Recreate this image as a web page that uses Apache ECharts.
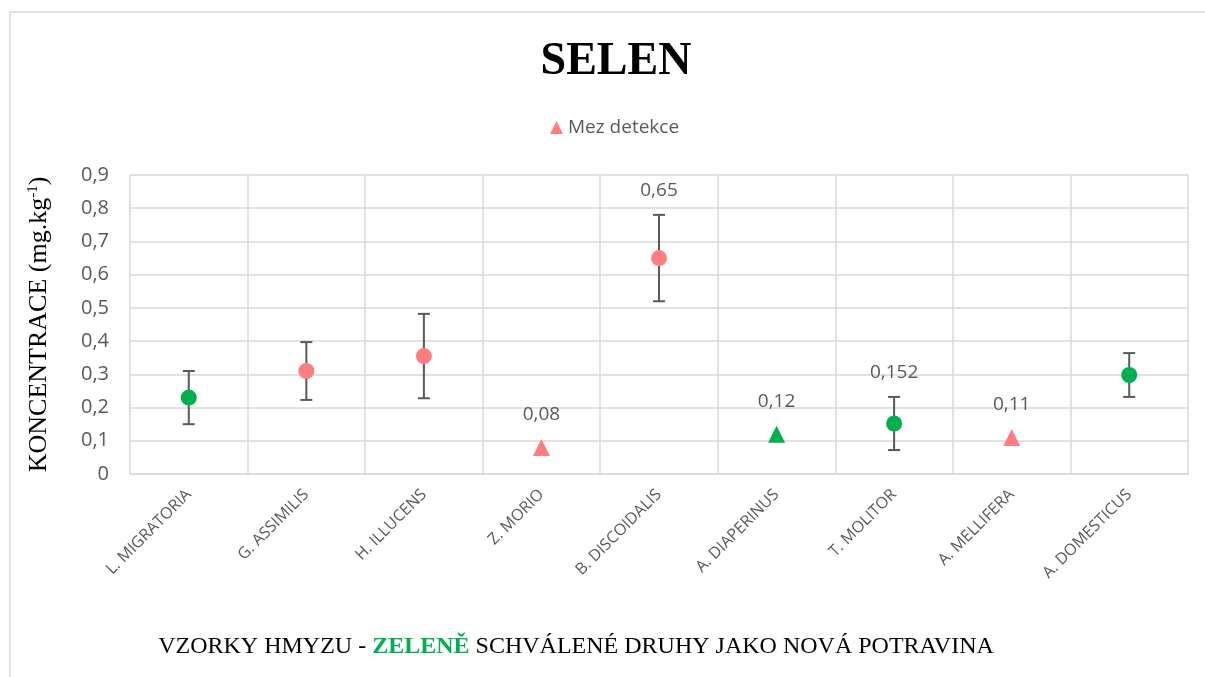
<!DOCTYPE html>
<html>
<head>
<meta charset="utf-8">
<script src="https://cdn.jsdelivr.net/npm/echarts@6/dist/echarts.min.js"></script>
<style>
  html, body { margin: 0; padding: 0; background: #fff; }
  #chart { width: 1205px; height: 677px; }
</style>
</head>
<body>
<div id="chart"></div>
<script>
// data
const categories = ['L. MIGRATORIA', 'G. ASSIMILIS', 'H. ILLUCENS', 'Z. MORIO', 'B. DISCOIDALIS',
  'A. DIAPERINUS', 'T. MOLITOR', 'A. MELLIFERA', 'A. DOMESTICUS']
const values = [0.23, 0.31, 0.355, 0.08, 0.65, 0.12, 0.152, 0.11, 0.298]
const errors = [0.08, 0.087, 0.127, null, 0.13, null, 0.08, null, 0.066]
const approved = [true, false, false, false, false, true, true, false, true]
const belowLimit = [false, false, false, true, false, true, false, true, false]
const valueLabels = ['', '', '', '0,08', '0,65', '0,12', '0,152', '0,11', '']
const yTicks = { min: 0, max: 0.9, step: 0.1 }

const GREEN = '#00b050'
const PINK = '#ff7c80'
const GREY = '#595959'
const GRID = '#d9d9d9'

const chart = echarts.init(document.getElementById('chart'))

const pointData = values.map((v, i) => belowLimit[i] ? null : {
  value: v,
  itemStyle: { color: approved[i] ? GREEN : PINK }
})
const limitData = values.map((v, i) => !belowLimit[i] ? null : {
  value: v,
  itemStyle: { color: approved[i] ? GREEN : PINK },
  label: { show: !!valueLabels[i], formatter: valueLabels[i] }
})
const errorData = values.map((v, i) => errors[i] == null ? null : [i, v - errors[i], v + errors[i]])

chart.setOption({
  animation: false,
  graphic: [{
    type: 'rect',
    shape: { x: 10, y: 12, width: 1220, height: 700 },
    style: { fill: 'none', stroke: GRID, lineWidth: 1.5 },
    silent: true
  }],
  title: [{
    text: 'SELEN',
    left: 611,
    top: 34,
    textAlign: 'center',
    textStyle: { fontFamily: 'Liberation Serif', fontWeight: 'bold', fontSize: 46, color: '#000' }
  }, {
    text: '{n|VZORKY HMYZU - }{g|ZELENĚ}{n| SCHVÁLENÉ DRUHY JAKO NOVÁ POTRAVINA}',
    left: 571,
    top: 630,
    textAlign: 'center',
    textStyle: {
      fontWeight: 'normal',
      rich: {
        n: { fontFamily: 'Liberation Serif', fontSize: 24, fontWeight: 'normal', color: '#000' },
        g: { fontFamily: 'Liberation Serif', fontSize: 24, fontWeight: 'bold', color: GREEN }
      }
    }
  }],
  legend: {
    data: [{ name: 'Mez detekce', icon: 'triangle' }],
    top: 113,
    left: 545,
    itemWidth: 13,
    itemHeight: 13,
    itemGap: 6,
    textStyle: { fontFamily: 'Open Sans', fontSize: 19, color: GREY }
  },
  grid: { left: 130, right: 17, top: 175, bottom: 203 },
  xAxis: {
    type: 'category',
    data: categories,
    boundaryGap: true,
    axisLine: { lineStyle: { color: GRID, width: 1.5 } },
    axisTick: { show: false },
    splitLine: { show: true, lineStyle: { color: GRID, width: 1.5 } },
    axisLabel: {
      rotate: 45,
      margin: 18,
      interval: 0,
      fontFamily: 'Open Sans',
      fontSize: 16,
      color: GREY
    }
  },
  yAxis: {
    type: 'value',
    min: yTicks.min,
    max: yTicks.max,
    interval: yTicks.step,
    axisLine: { show: false },
    axisTick: { show: false },
    splitLine: { lineStyle: { color: GRID, width: 1.5 } },
    axisLabel: {
      margin: 21,
      fontFamily: 'Open Sans',
      fontSize: 20,
      color: GREY,
      formatter: v => v === 0 ? '0' : v.toFixed(1).replace('.', ',')
    },
    name: '{a|KONCENTRACE (mg.kg}{s|-1}{a|)}',
    nameLocation: 'middle',
    nameRotate: 90,
    nameGap: 78,
    nameTextStyle: {
      rich: {
        a: { fontFamily: 'Liberation Serif', fontSize: 26, color: '#000' },
        s: { fontFamily: 'Liberation Serif', fontSize: 15, color: '#000', verticalAlign: 'top', padding: [0, 0, 10, 0] }
      }
    }
  },
  series: [{
    name: 'Chyba',
    type: 'custom',
    z: 2,
    data: errorData,
    renderItem: (params, api) => {
      const i = api.value(0)
      const lo = api.coord([i, api.value(1)])
      const hi = api.coord([i, api.value(2)])
      const cap = 6
      const children = [
        { type: 'line', shape: { x1: lo[0], y1: lo[1], x2: hi[0], y2: hi[1] } },
        { type: 'line', shape: { x1: lo[0] - cap, y1: lo[1], x2: lo[0] + cap, y2: lo[1] } },
        { type: 'line', shape: { x1: hi[0] - cap, y1: hi[1], x2: hi[0] + cap, y2: hi[1] } }
      ].map(c => Object.assign(c, { style: { stroke: GREY, lineWidth: 2 } }))
      if (valueLabels[i]) {
        children.push({
          type: 'text',
          style: {
            x: hi[0], y: hi[1] - 24, text: valueLabels[i],
            align: 'center', verticalAlign: 'middle',
            fontFamily: 'Open Sans', fontSize: 19, fill: GREY
          }
        })
      }
      return { type: 'group', children }
    }
  }, {
    name: 'Hodnoty',
    type: 'scatter',
    z: 3,
    symbol: 'circle',
    symbolSize: 16,
    itemStyle: { opacity: 1 },
    data: pointData
  }, {
    name: 'Mez detekce',
    type: 'scatter',
    z: 3,
    symbol: 'triangle',
    symbolSize: 17,
    itemStyle: { color: PINK, opacity: 1 },
    label: {
      position: 'top',
      distance: 15,
      fontFamily: 'Open Sans',
      fontSize: 19,
      color: GREY
    },
    data: limitData
  }]
})
</script>
</body>
</html>
